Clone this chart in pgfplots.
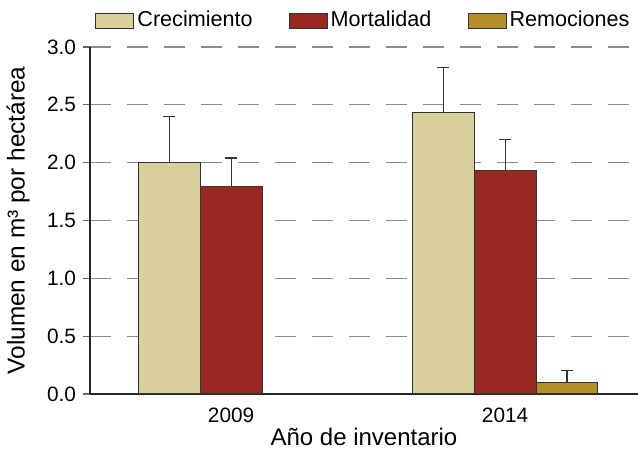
\documentclass[border=0pt]{standalone}
\usepackage{fontspec}
\setmainfont{Liberation Sans}
\usepackage{pgfplots}
\pgfplotsset{compat=1.18}
\usepackage{pgfplotstable}

\definecolor{crec}{HTML}{D8CF9B}
\definecolor{mort}{HTML}{992822}
\definecolor{remo}{HTML}{B48E28}
\definecolor{edge}{HTML}{333333}

% x: 0 = 2009, 1 = 2014
\pgfplotstableread{
x y e
0 2.00 0.40
1 2.43 0.39
}\crecimiento
\pgfplotstableread{
x y e
0 1.79 0.25
1 1.93 0.27
}\mortalidad
\pgfplotstableread{
x y e
1 0.10 0.10
}\remociones

\begin{document}
\begin{tikzpicture}
\begin{axis}[
    name=ax,
    scale only axis,
    width=274pt, height=173.5pt,
    xmin=-0.515, xmax=1.485,
    ymin=0, ymax=3,
    ybar=0pt, bar width=0.226,
    axis x line*=bottom, axis y line*=left,
    axis line style={black!85, line width=0.7pt},
    xtick={0,1}, xticklabels={2009,2014},
    xtick style={draw=none},
    ytick={0,0.5,...,3.0},
    tick align=outside, major tick length=3.5pt,
    ytick style={black!60, line width=0.6pt},
    ymajorgrids,
    grid style={black!45, line width=0.6pt, dash pattern=on 10.5pt off 8pt},
    /pgf/number format/assume math mode=true,
    y tick label style={/pgf/number format/fixed, /pgf/number format/fixed zerofill, /pgf/number format/precision=1},
    tick label style={font=\fontsize{10.4}{12}\selectfont},
    xlabel={Año de inventario},
    ylabel={Volumen en m³ por hectárea},
    every axis x label/.style={at={(axis description cs:0.5,0)}, anchor=center, yshift=-21.5pt,
        font=\fontsize{12}{14}\selectfont},
    every axis y label/.style={at={(axis description cs:-0.131,0.5)}, anchor=center, rotate=90,
        font=\fontsize{12.2}{14}\selectfont},
    legend columns=3,
    legend style={at={(axis description cs:0.5,1.076)}, anchor=center, draw=none, fill=none,
        font=\fontsize{10.8}{12}\selectfont,
        nodes={inner xsep=1.5pt, inner ysep=1.5pt},
        /tikz/every even column/.append style={column sep=16.5pt}},
    legend image code/.code={\draw[#1, draw=edge, line width=0.5pt] (0pt,-3.75pt) rectangle (19pt,3.75pt);},
    every axis plot/.append style={draw=edge, line width=0.5pt},
    error bars/y dir=plus, error bars/y explicit,
    error bars/error bar style={black!80, line width=0.6pt},
    error bars/error mark options={rotate=90, mark size=3pt, black!80, line width=0.6pt},
]
\addplot[fill=crec] table[x=x, y=y, y error=e] {\crecimiento};
\addplot[fill=mort] table[x=x, y=y, y error=e] {\mortalidad};
\addplot[fill=remo] table[x=x, y=y, y error=e] {\remociones};
\legend{Crecimiento, Mortalidad, Remociones}
\end{axis}
% frame the page like the reference: 45pt left of the axis, 27.5pt below, 23.5pt above
\pgfresetboundingbox
\path[use as bounding box] ([xshift=-45pt, yshift=-27.5pt]ax.south west) rectangle ([yshift=23.5pt]ax.north east);
\end{tikzpicture}
\end{document}
